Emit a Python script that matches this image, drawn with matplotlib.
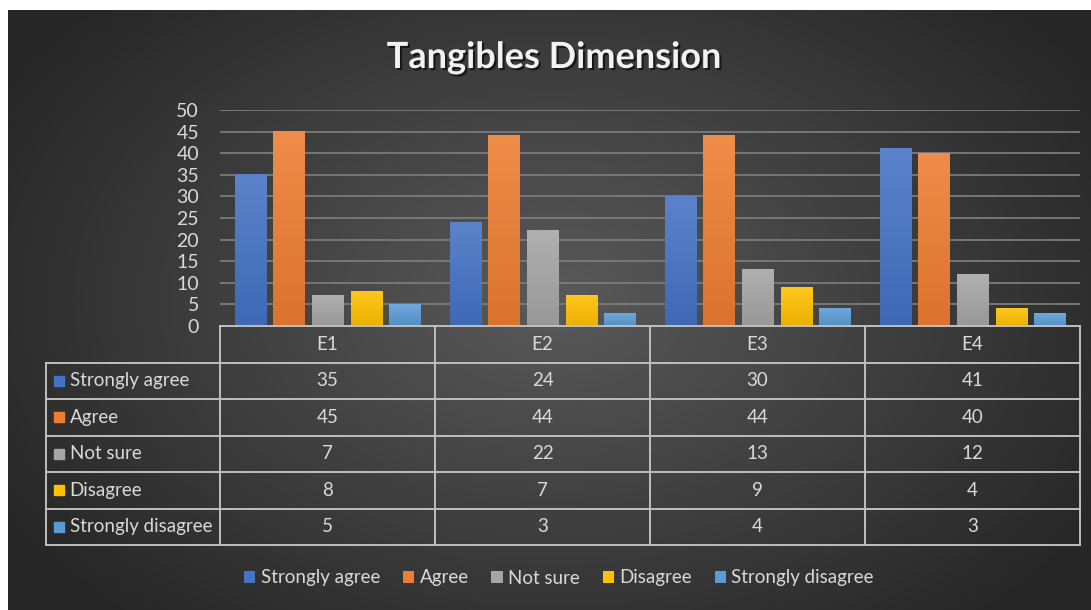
import numpy as np
import matplotlib.pyplot as plt
import matplotlib.patheffects as pe
from matplotlib import transforms
from matplotlib.colors import to_rgb, LinearSegmentedColormap
from matplotlib.patches import Patch

# Data
items = ["E1", "E2", "E3", "E4"]
series_names = ["Strongly agree", "Agree", "Not sure", "Disagree", "Strongly disagree"]
strongly_agree = [35, 24, 30, 41]
agree = [45, 44, 44, 40]
not_sure = [7, 22, 13, 12]
disagree = [8, 7, 9, 4]
strongly_disagree = [5, 3, 4, 3]
series = [strongly_agree, agree, not_sure, disagree, strongly_disagree]
colors = ["#4472C4", "#ED7D31", "#A5A5A5", "#FFC000", "#5B9BD5"]
y_ticks = list(range(0, 51, 5))

TXT = "#d9d9d9"
LINE = "#bfbfbf"
W, H = 1091, 610
FS = 13.5

plt.rcParams['font.family'] = ['Lato', 'DejaVu Sans']
fig = plt.figure(figsize=(W / 100, H / 100), dpi=100)
fig.patch.set_facecolor("white")

# dark panel with radial shading
bg = fig.add_axes([8 / W, 0, 1 - 8 / W, 1 - 10 / H])
yy, xx = np.mgrid[0:600, 0:1083]
d = np.clip(np.sqrt(((xx - 545) / 640) ** 2 + ((yy - 290) / 430) ** 2), 0, 1)
inner = np.array(to_rgb("#5a5a5a"))
outer = np.array(to_rgb("#262626"))
img = inner * (1 - d[..., None]) + outer * d[..., None]
bg.imshow(img, aspect="auto", extent=[0, 1, 0, 1])
bg.axis("off")

ax = fig.add_axes([220 / W, 1 - 326 / H, 860 / W, 216 / H])
ax.set_facecolor("none")

x = np.arange(len(items))
step, width = 0.18, 0.145


def shade(c, amt):
    c = np.array(to_rgb(c))
    if amt > 0:
        return tuple(c + (1 - c) * amt)
    return tuple(c * (1 + amt))


for k, (vals, col) in enumerate(zip(series, colors)):
    bars = ax.bar(x + (k - 2) * step, vals, width, color=col, zorder=3)
    cm = LinearSegmentedColormap.from_list("g", [shade(col, -0.08), shade(col, 0.12)])
    for b in bars:
        x0, h = b.get_x(), b.get_height()
        ax.imshow(np.linspace(0, 1, 64)[::-1, None], cmap=cm, aspect="auto",
                  extent=[x0, x0 + b.get_width(), 0, h], zorder=4)

ax.set_xlim(-0.5, len(items) - 0.5)
ax.set_ylim(0, 50)
ax.set_yticks(y_ticks)
ax.set_xticks([])
ax.yaxis.grid(True, color="#7b7b7b", lw=1.3)
ax.set_axisbelow(True)
ax.tick_params(axis="y", length=0, pad=15, labelcolor=TXT, labelsize=14)
for s in ax.spines.values():
    s.set_visible(False)

# data table under the plot
trans = transforms.blended_transform_factory(ax.transData, fig.transFigure)
top = 1 - 326 / H
row_h = 36.5 / H
label_left = -0.5 - 0.81
right = len(items) - 0.5
n_rows = len(series) + 1
bottom = top - n_rows * row_h
kw = dict(transform=trans, clip_on=False, color=LINE, lw=1.4, zorder=5)

for i in range(n_rows + 1):
    y = top - i * row_h
    ax.plot([-0.5 if i == 0 else label_left, right], [y, y], **kw)
for xv in np.arange(-0.5, right + 0.01, 1.0):
    ax.plot([xv, xv], [top, bottom], **kw)
ax.plot([label_left, label_left], [top - row_h, bottom], **kw)

for j, name in enumerate(items):
    ax.text(j, top - 0.5 * row_h, name, transform=trans, ha="center", va="center",
            color=TXT, fontsize=FS)
for r, (name, vals, col) in enumerate(zip(series_names, series, colors)):
    yc = top - (r + 1.5) * row_h
    ax.plot([label_left + 0.06], [yc], "s", ms=7, color=col, transform=trans, clip_on=False)
    ax.text(label_left + 0.11, yc, name, transform=trans, ha="left", va="center",
            color=TXT, fontsize=FS)
    for j, v in enumerate(vals):
        ax.text(j, yc, str(v), transform=trans, ha="center", va="center",
                color=TXT, fontsize=FS)

handles = [Patch(facecolor=c, label=n) for n, c in zip(series_names, colors)]
fig.legend(handles=handles, loc="center", bbox_to_anchor=(559 / W, 1 - 578 / H), ncol=5,
           frameon=False, handlelength=0.6, handleheight=0.6, handletextpad=0.3,
           columnspacing=1.2, labelcolor=TXT, fontsize=FS)

fig.text(554 / W, 1 - 68 / H, "Tangibles Dimension", ha="center", va="baseline",
         fontsize=26, fontweight="bold", color="#f2f2f2",
         path_effects=[pe.withSimplePatchShadow(offset=(1.5, -1.5), shadow_rgbFace="black", alpha=0.6)])

fig.savefig("out.png", dpi=100)
